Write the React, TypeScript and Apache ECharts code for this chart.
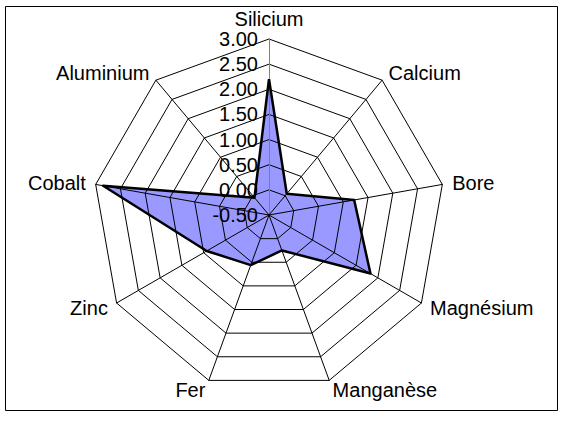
import React, { useEffect, useRef } from "react";
import * as echarts from "echarts";

const categories = ["Silicium", "Calcium", "Bore", "Magnésium", "Manganèse", "Fer", "Zinc", "Cobalt", "Aluminium"];
const values = [2.2, 0.05, 1.22, 1.83, 0.25, 0.56, 0.93, 2.85, -0.05];
const axisMin = -0.5;
const axisMax = 3.0;
const axisSplits = 7;

export default function App() {
  const ref = useRef<HTMLDivElement>(null);
  useEffect(() => {
    if (!ref.current) return;
    const chart = echarts.init(ref.current, null, { renderer: "svg" });
    // ECharts radar runs counter-clockwise; reverse (keeping first at top) for clockwise order
    const order = [0, ...categories.map((_, i) => i).slice(1).reverse()];
    const font = "Liberation Sans, Arial, sans-serif";
    const indicator = order.map((i, k) => {
      const ind: any = { name: categories[i], min: axisMin, max: axisMax };
      if (k === 0) {
        ind.nameGap = 6;
        ind.axisLabel = {
          show: true,
          color: "#000",
          fontSize: 20,
          fontFamily: font,
          margin: 11,
          formatter: (v: number) => v.toFixed(2),
        };
        ind.axisLine = { show: true, lineStyle: { color: "#808080", width: 1 } };
      }
      return ind;
    });
    const data = order.map((i) => values[i]);
    chart.setOption({
      animation: false,
      backgroundColor: "#fff",
      graphic: [
        {
          type: "rect",
          shape: { x: 5.5, y: 6.5, width: 552, height: 404 },
          style: { fill: "none", stroke: "#000", lineWidth: 1 },
          z: 0,
        },
      ],
      radar: {
        center: [269, 215],
        radius: 176,
        startAngle: 90,
        shape: "polygon",
        splitNumber: axisSplits,
        indicator,
        nameGap: 10,
        axisName: { color: "#000", fontSize: 20, fontFamily: font },
        axisLine: { show: true, lineStyle: { color: "#000", width: 1 } },
        splitLine: { show: true, lineStyle: { color: "#000", width: 1 } },
        splitArea: { show: false },
        axisLabel: { show: false },
        axisTick: { show: false },
        z: 1,
      },
      series: [
        {
          type: "radar",
          z: -1,
          symbol: "none",
          data: [{ value: data }],
          lineStyle: { width: 0, opacity: 0 },
          areaStyle: { color: "#9999FF", opacity: 1 },
          silent: true,
        },
        {
          type: "radar",
          z: 3,
          symbol: "none",
          data: [{ value: data }],
          lineStyle: { color: "#000", width: 2.5 },
          silent: true,
        },
      ],
    });
    return () => chart.dispose();
  }, []);
  return (
    <div
      ref={ref}
      style={{ position: "absolute", left: 0, top: 0, width: 564, height: 421 }}
    />
  );
}
